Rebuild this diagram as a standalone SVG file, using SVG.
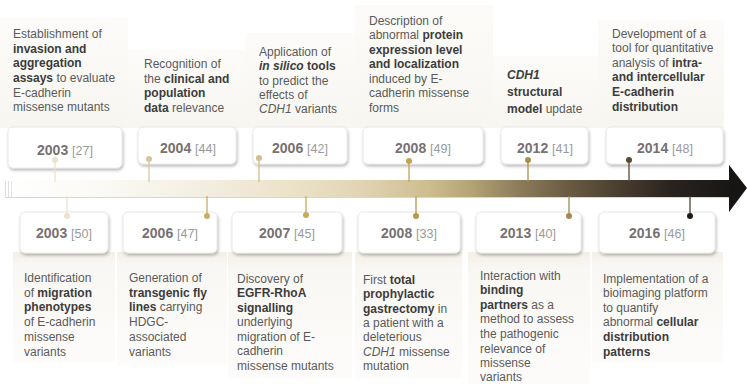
<svg xmlns="http://www.w3.org/2000/svg" width="747" height="384" viewBox="0 0 747 384">
  <defs>
    <linearGradient id="shaftGrad" x1="5" y1="0" x2="735" y2="0" gradientUnits="userSpaceOnUse">
      <stop offset="0" stop-color="#ffffff"/>
      <stop offset="0.14" stop-color="#fbf9f4"/>
      <stop offset="0.27" stop-color="#f3eee2"/>
      <stop offset="0.40" stop-color="#ebe1c7"/>
      <stop offset="0.49" stop-color="#e0d4b3"/>
      <stop offset="0.58" stop-color="#cdbd8f"/>
      <stop offset="0.64" stop-color="#b2a274"/>
      <stop offset="0.70" stop-color="#8e7e5c"/>
      <stop offset="0.77" stop-color="#6a5c44"/>
      <stop offset="0.84" stop-color="#4a3e30"/>
      <stop offset="0.91" stop-color="#2a2420"/>
      <stop offset="1" stop-color="#171513"/>
    </linearGradient>
    <linearGradient id="topPanel" x1="0" y1="0" x2="0" y2="1">
      <stop offset="0" stop-color="#fcfbf9"/>
      <stop offset="1" stop-color="#f8f6f1"/>
    </linearGradient>
    <linearGradient id="botPanel" x1="0" y1="0" x2="0" y2="1">
      <stop offset="0" stop-color="#f4efe6"/>
      <stop offset="0.12" stop-color="#f9f7f3"/>
      <stop offset="1" stop-color="#fdfcfb"/>
    </linearGradient>
    <filter id="boxShadow" x="-10%" y="-20%" width="125%" height="150%">
      <feDropShadow dx="1" dy="2" stdDeviation="1.4" flood-color="#000" flood-opacity="0.28"/>
    </filter>
  </defs>
  <style>
    .txt { font-family: "Liberation Sans", Arial, sans-serif; font-size: 12px; fill: #5a5a5a; }
    .b { font-weight: bold; fill: #3c3c3c; }
    .i { font-style: italic; }
    .box { fill: #ffffff; stroke: #e2e2e2; stroke-width: 0.8; filter: url(#boxShadow); }
    .yr { font-family: "Liberation Sans", Arial, sans-serif; font-size: 14px; font-weight: bold; fill: #777171; text-anchor: middle; }
    .ref { font-weight: normal; font-size: 12.5px; fill: #9a9a9a; }
    .tp { fill: url(#topPanel); }
    .bp { fill: url(#botPanel); }
  </style>

  <rect width="747" height="384" fill="#ffffff"/>

  <!-- background panels behind the event texts -->
  <g id="panels">
    <rect class="tp" x="0" y="18" width="128" height="110"/>
    <rect class="tp" x="128" y="50" width="117" height="78"/>
    <rect class="tp" x="245" y="33" width="110" height="95"/>
    <rect class="tp" x="355" y="5" width="138" height="123"/>
    <rect class="tp" x="493" y="56" width="105" height="72"/>
    <rect class="tp" x="598" y="20" width="126" height="108"/>
    <rect class="bp" x="13" y="252" width="102" height="110"/>
    <rect class="bp" x="117" y="252" width="110" height="113"/>
    <rect class="bp" x="228" y="252" width="124" height="126"/>
    <rect class="bp" x="355" y="252" width="107" height="126"/>
    <rect class="bp" x="468" y="252" width="122" height="132"/>
    <rect class="bp" x="592" y="252" width="131" height="111"/>
  </g>

  <!-- timeline arrow -->
  <g id="timeline">
    <rect x="5" y="180" width="727" height="17" fill="url(#shaftGrad)"/>
    <line x1="5" y1="197.5" x2="732" y2="197.5" stroke="#d9d6d0" stroke-width="1"/>
    <polygon points="729,165 747,188 729,212" fill="#171513"/>
    <line x1="5.5" y1="181" x2="5.5" y2="197" stroke="#d6d6d6" stroke-width="0.8"/>
    <line x1="8.5" y1="181" x2="8.5" y2="197" stroke="#d6d6d6" stroke-width="0.8"/>
    <line x1="11.5" y1="181" x2="11.5" y2="197" stroke="#dcdcdc" stroke-width="0.8"/>
  </g>

  <!-- top year boxes -->
  <g id="y2003a"><rect class="box" x="8" y="127" width="114" height="41" rx="5"/><text class="yr" x="65" y="155">2003 <tspan class="ref">[27]</tspan></text></g>
  <g id="y2004"><rect class="box" x="138" y="127" width="98" height="37" rx="5"/><text class="yr" x="188" y="153">2004 <tspan class="ref">[44]</tspan></text></g>
  <g id="y2006a"><rect class="box" x="253" y="127" width="94" height="37" rx="5"/><text class="yr" x="300" y="153">2006 <tspan class="ref">[42]</tspan></text></g>
  <g id="y2008a"><rect class="box" x="363" y="127" width="120" height="37" rx="5"/><text class="yr" x="423" y="153">2008 <tspan class="ref">[49]</tspan></text></g>
  <g id="y2012"><rect class="box" x="501" y="127" width="87" height="37" rx="5"/><text class="yr" x="545" y="153">2012 <tspan class="ref">[41]</tspan></text></g>
  <g id="y2014"><rect class="box" x="606" y="127" width="117" height="37" rx="5"/><text class="yr" x="665" y="153">2014 <tspan class="ref">[48]</tspan></text></g>

  <!-- bottom year boxes -->
  <g id="y2003b"><rect class="box" x="20" y="212" width="88" height="41" rx="5"/><text class="yr" x="64" y="238">2003 <tspan class="ref">[50]</tspan></text></g>
  <g id="y2006b"><rect class="box" x="123" y="212" width="94" height="41" rx="5"/><text class="yr" x="170" y="238">2006 <tspan class="ref">[47]</tspan></text></g>
  <g id="y2007"><rect class="box" x="232" y="212" width="110" height="41" rx="5"/><text class="yr" x="287" y="238">2007 <tspan class="ref">[45]</tspan></text></g>
  <g id="y2008b"><rect class="box" x="358" y="212" width="102" height="41" rx="5"/><text class="yr" x="409" y="238">2008 <tspan class="ref">[33]</tspan></text></g>
  <g id="y2013"><rect class="box" x="476" y="212" width="105" height="41" rx="5"/><text class="yr" x="528" y="238">2013 <tspan class="ref">[40]</tspan></text></g>
  <g id="y2016"><rect class="box" x="599" y="212" width="116" height="41" rx="5"/><text class="yr" x="657" y="238">2016 <tspan class="ref">[46]</tspan></text></g>

  <!-- connectors between year boxes and the timeline -->
  <g id="connectors" stroke-width="1.3">
    <line x1="55" y1="160" x2="55" y2="182" stroke="#ebe2cc"/><circle cx="55" cy="160" r="3" fill="#ebe2cc"/>
    <line x1="149" y1="159" x2="149" y2="182" stroke="#d6c69c"/><circle cx="149" cy="159" r="3" fill="#d6c69c"/>
    <line x1="259" y1="158" x2="259" y2="182" stroke="#d2bf8c"/><circle cx="259" cy="158" r="3" fill="#d2bf8c"/>
    <line x1="409" y1="161" x2="409" y2="182" stroke="#c4a455"/><circle cx="409" cy="161" r="3" fill="#c4a455"/>
    <line x1="528" y1="160" x2="528" y2="182" stroke="#a89048"/><circle cx="528" cy="160" r="3" fill="#a89048"/>
    <line x1="629" y1="160" x2="629" y2="182" stroke="#5a4a30"/><circle cx="629" cy="160" r="3" fill="#5a4a30"/>

    <line x1="67" y1="196" x2="67" y2="216" stroke="#ebe3cc"/><circle cx="67" cy="216" r="3" fill="#ebe3cc"/>
    <line x1="207" y1="196" x2="207" y2="216" stroke="#c8ae68"/><circle cx="207" cy="216" r="3" fill="#c8ae68"/>
    <line x1="306" y1="196" x2="306" y2="215" stroke="#c8aa5c"/><circle cx="306" cy="215" r="3" fill="#c8aa5c"/>
    <line x1="416" y1="196" x2="416" y2="216" stroke="#b89848"/><circle cx="416" cy="216" r="3" fill="#b89848"/>
    <line x1="569" y1="196" x2="569" y2="216" stroke="#a48a4c"/><circle cx="569" cy="216" r="3" fill="#a48a4c"/>
    <line x1="690" y1="196" x2="690" y2="216" stroke="#4e4434"/><circle cx="690" cy="216" r="3" fill="#1e1a16"/>
  </g>

  <!-- top event descriptions -->
  <g id="t2003a" class="txt">
    <text x="13" y="38">Establishment of</text>
    <text x="13" y="53" class="b">invasion and</text>
    <text x="13" y="67" class="b">aggregation</text>
    <text x="13" y="82"><tspan class="b">assays</tspan> to evaluate</text>
    <text x="13" y="97">E-cadherin</text>
    <text x="13" y="111">missense mutants</text>
  </g>
  <g id="t2004" class="txt">
    <text x="144" y="68">Recognition of</text>
    <text x="144" y="83">the <tspan class="b">clinical and</tspan></text>
    <text x="144" y="97" class="b">population</text>
    <text x="144" y="112"><tspan class="b">data</tspan> relevance</text>
  </g>
  <g id="t2006a" class="txt">
    <text x="259" y="56">Application of</text>
    <text x="259" y="70"><tspan class="b i">in silico</tspan> <tspan class="b">tools</tspan></text>
    <text x="259" y="85">to predict the</text>
    <text x="259" y="99">effects of</text>
    <text x="259" y="113"><tspan class="i">CDH1</tspan> variants</text>
  </g>
  <g id="t2008a" class="txt">
    <text x="369" y="25">Description of</text>
    <text x="369" y="39">abnormal <tspan class="b">protein</tspan></text>
    <text x="369" y="54" class="b">expression level</text>
    <text x="369" y="68" class="b">and localization</text>
    <text x="369" y="83">induced by E-</text>
    <text x="369" y="97">cadherin missense</text>
    <text x="369" y="112">forms</text>
  </g>
  <g id="t2012" class="txt">
    <text x="507" y="79" class="b i">CDH1</text>
    <text x="507" y="96" class="b">structural</text>
    <text x="507" y="113"><tspan class="b">model</tspan> update</text>
  </g>
  <g id="t2014" class="txt">
    <text x="612" y="38">Development of a</text>
    <text x="612" y="52">tool for quantitative</text>
    <text x="612" y="67">analysis of <tspan class="b">intra-</tspan></text>
    <text x="612" y="81" class="b">and intercellular</text>
    <text x="612" y="96" class="b">E-cadherin</text>
    <text x="612" y="111" class="b">distribution</text>
  </g>

  <!-- bottom event descriptions -->
  <g id="b2003" class="txt">
    <text x="24" y="282">Identification</text>
    <text x="24" y="297">of <tspan class="b">migration</tspan></text>
    <text x="24" y="311" class="b">phenotypes</text>
    <text x="24" y="326">of E-cadherin</text>
    <text x="24" y="341">missense</text>
    <text x="24" y="356">variants</text>
  </g>
  <g id="b2006" class="txt">
    <text x="129" y="282">Generation of</text>
    <text x="129" y="297" class="b">transgenic fly</text>
    <text x="129" y="311"><tspan class="b">lines</tspan> carrying</text>
    <text x="129" y="326">HDGC-</text>
    <text x="129" y="341">associated</text>
    <text x="129" y="356">variants</text>
  </g>
  <g id="b2007" class="txt">
    <text x="237" y="283">Discovery of</text>
    <text x="237" y="297" class="b">EGFR-RhoA</text>
    <text x="237" y="312" class="b">signalling</text>
    <text x="237" y="326">underlying</text>
    <text x="237" y="341">migration of E-</text>
    <text x="237" y="355">cadherin</text>
    <text x="237" y="370">missense mutants</text>
  </g>
  <g id="b2008" class="txt">
    <text x="363" y="284">First <tspan class="b">total</tspan></text>
    <text x="363" y="298" class="b">prophylactic</text>
    <text x="363" y="313"><tspan class="b">gastrectomy</tspan> in</text>
    <text x="363" y="327">a patient with a</text>
    <text x="363" y="341">deleterious</text>
    <text x="363" y="356"><tspan class="i">CDH1</tspan> missense</text>
    <text x="363" y="370">mutation</text>
  </g>
  <g id="b2013" class="txt">
    <text x="480" y="280">Interaction with</text>
    <text x="480" y="294" class="b">binding</text>
    <text x="480" y="309"><tspan class="b">partners</tspan> as a</text>
    <text x="480" y="323">method to assess</text>
    <text x="480" y="338">the pathogenic</text>
    <text x="480" y="353">relevance of</text>
    <text x="480" y="367">missense</text>
    <text x="480" y="381">variants</text>
  </g>
  <g id="b2016" class="txt">
    <text x="603" y="283">Implementation of a</text>
    <text x="603" y="297">bioimaging platform</text>
    <text x="603" y="312">to quantify</text>
    <text x="603" y="326">abnormal <tspan class="b">cellular</tspan></text>
    <text x="603" y="341" class="b">distribution</text>
    <text x="603" y="356" class="b">patterns</text>
  </g>
</svg>
